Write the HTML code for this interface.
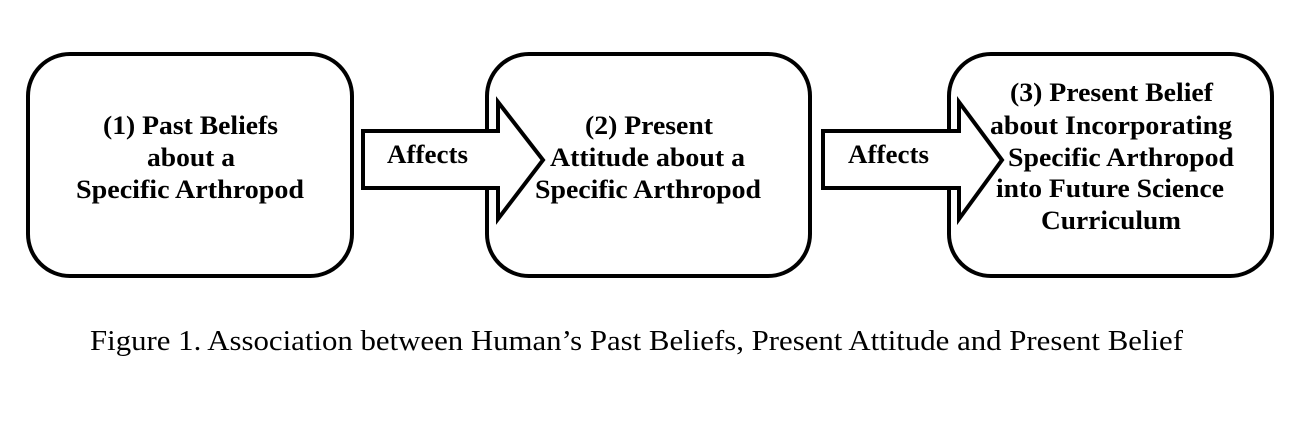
<!DOCTYPE html>
<html><head><style>html,body{margin:0;padding:0;background:#fff}svg{display:block}</style></head>
<body>
<svg width="1310" height="424" viewBox="0 0 1310 424" xmlns="http://www.w3.org/2000/svg">
<g fill="#fff" stroke="#000" stroke-width="4">
<rect x="28" y="54" width="324" height="222" rx="42"/>
<rect x="487" y="54" width="323" height="222" rx="42"/>
<rect x="949" y="54" width="323" height="222" rx="42"/>
<polygon points="363,131 498,131 498,102 543,160 498,219 498,188 363,188"/>
<polygon points="823,131 959,131 959,102 1002,160 959,219 959,188 823,188"/>
</g>
<g font-family="Liberation Serif, serif" font-weight="bold" font-size="26" fill="#000">
<text x="103" y="134" textLength="175" lengthAdjust="spacingAndGlyphs">(1) Past Beliefs</text>
<text x="147" y="166" textLength="88" lengthAdjust="spacingAndGlyphs">about a</text>
<text x="76" y="198" textLength="228" lengthAdjust="spacingAndGlyphs">Specific Arthropod</text>
<text x="585" y="134" textLength="128" lengthAdjust="spacingAndGlyphs">(2) Present</text>
<text x="550" y="166" textLength="195" lengthAdjust="spacingAndGlyphs">Attitude about a</text>
<text x="535" y="198" textLength="226" lengthAdjust="spacingAndGlyphs">Specific Arthropod</text>
<text x="1010" y="101" textLength="203" lengthAdjust="spacingAndGlyphs">(3) Present Belief</text>
<text x="990" y="134" textLength="242" lengthAdjust="spacingAndGlyphs">about Incorporating</text>
<text x="1008" y="166" textLength="226" lengthAdjust="spacingAndGlyphs">Specific Arthropod</text>
<text x="996" y="197" textLength="228" lengthAdjust="spacingAndGlyphs">into Future Science</text>
<text x="1041" y="229" textLength="140" lengthAdjust="spacingAndGlyphs">Curriculum</text>
<text x="387" y="163" textLength="81" lengthAdjust="spacingAndGlyphs">Affects</text>
<text x="848" y="163" textLength="81" lengthAdjust="spacingAndGlyphs">Affects</text>
</g>
<text x="90" y="350" font-family="Liberation Serif, serif" font-size="29" fill="#000" textLength="1093" lengthAdjust="spacingAndGlyphs">Figure 1. Association between Human’s Past Beliefs, Present Attitude and Present Belief</text>
</svg>
</body></html>
